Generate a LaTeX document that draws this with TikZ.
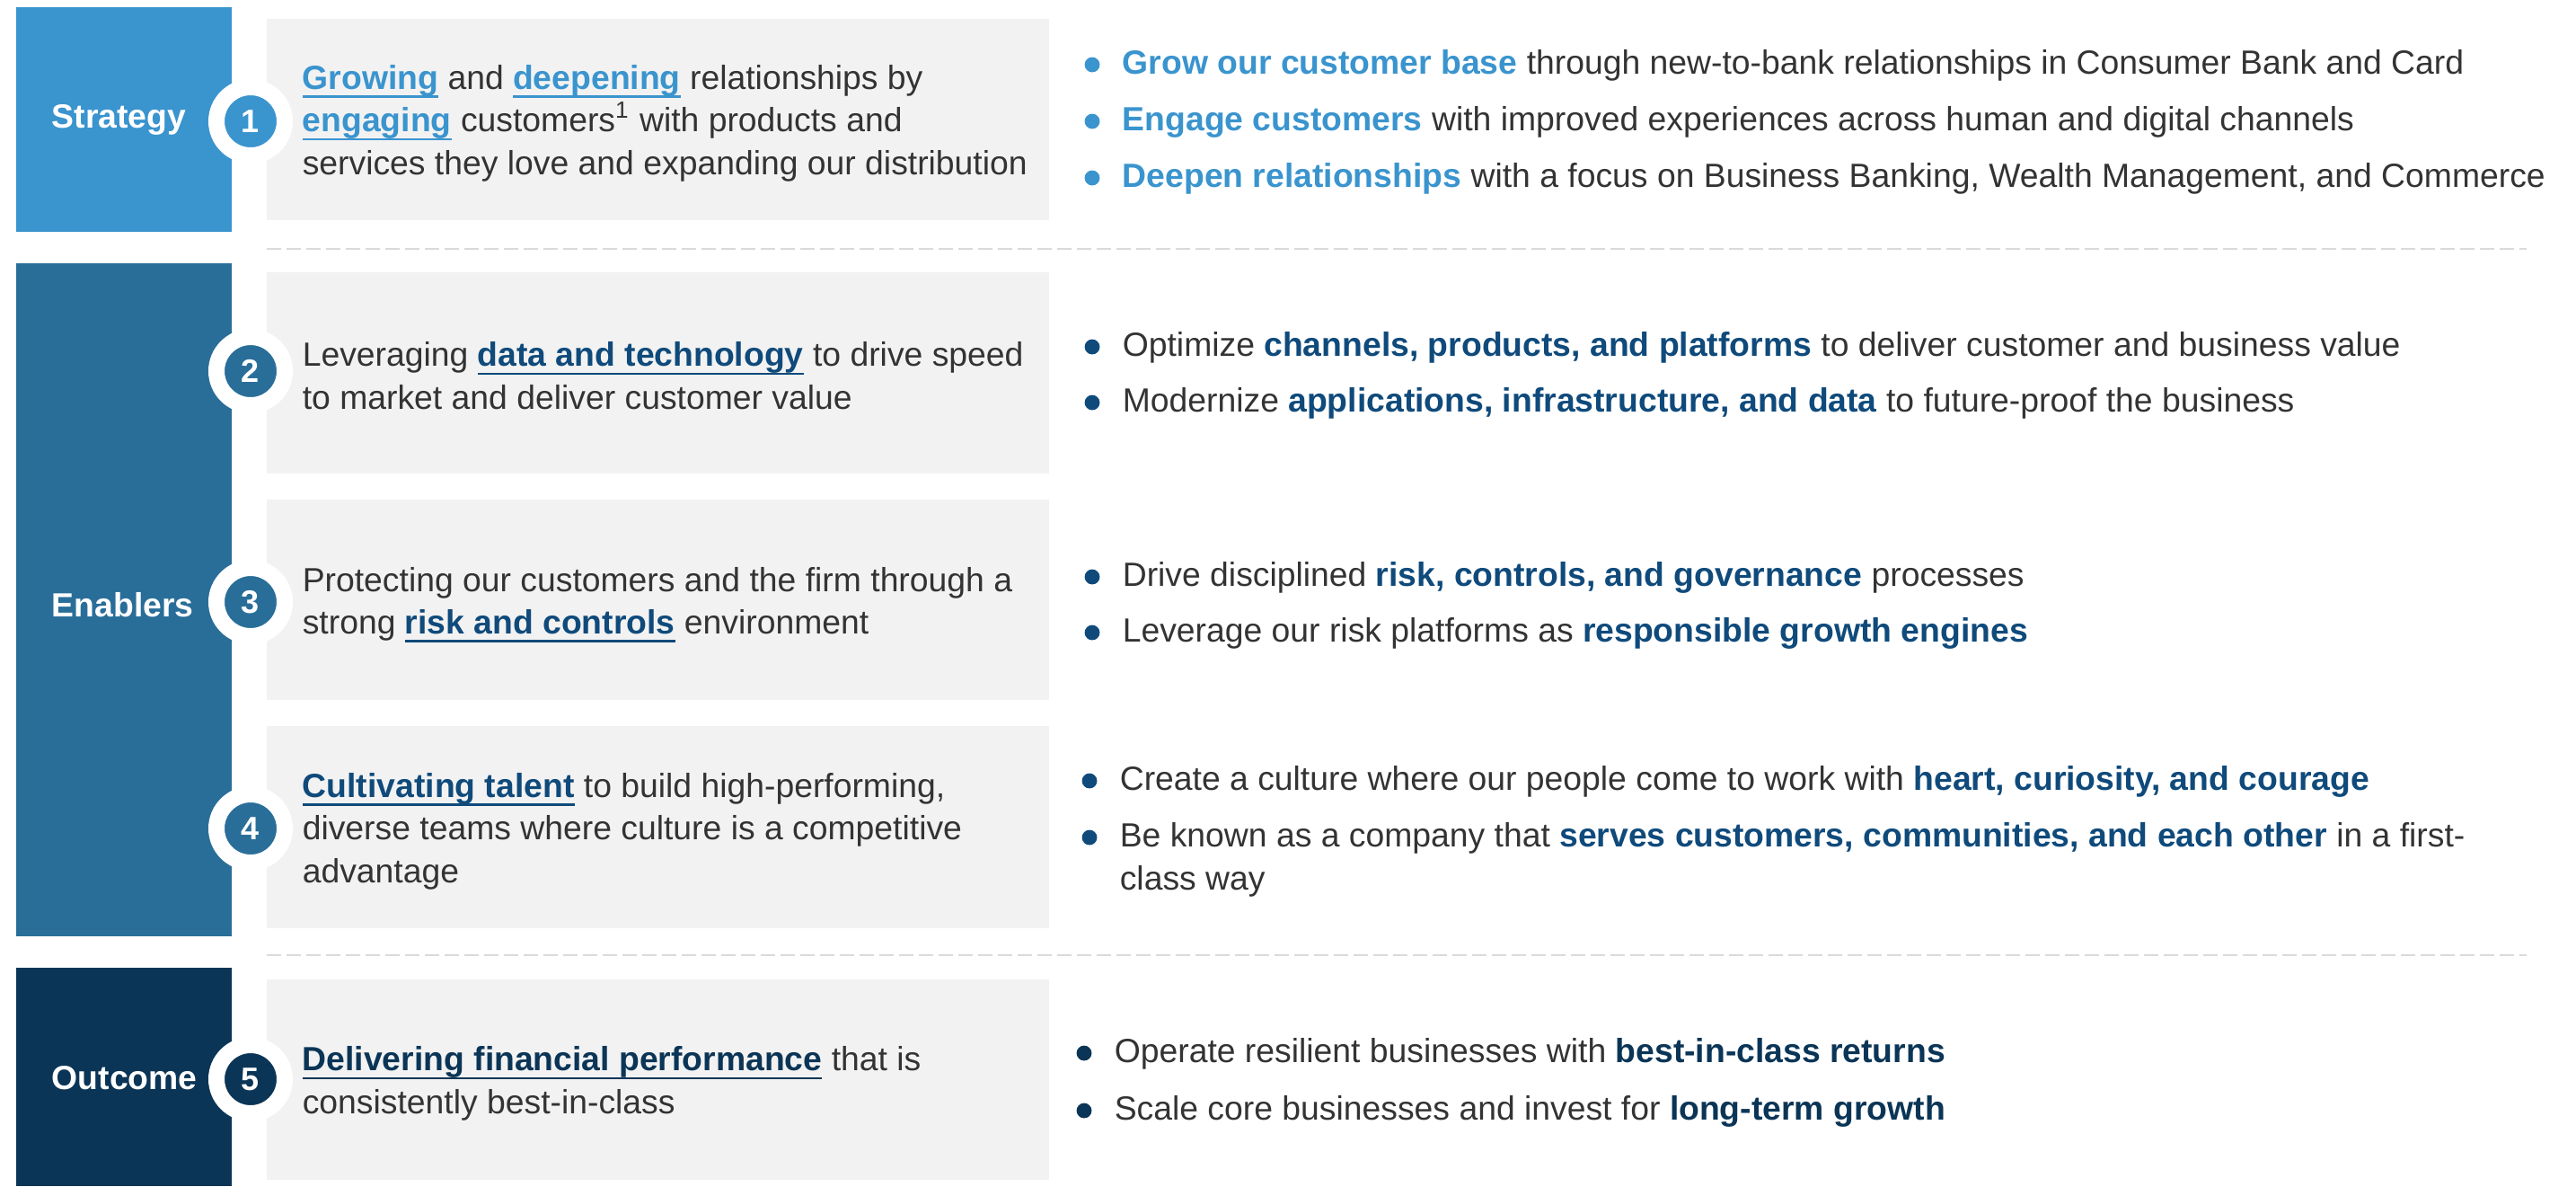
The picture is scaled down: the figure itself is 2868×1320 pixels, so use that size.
\documentclass[tikz,border=0pt]{standalone}
\usepackage{fontspec}
\setmainfont{Liberation Sans}
\usepackage{xcolor}

\definecolor{stratblue}{HTML}{3A94CE}
\definecolor{enabblue}{HTML}{296E99}
\definecolor{outnavy}{HTML}{0B3556}
\definecolor{enabtext}{HTML}{0F4A7B}
\definecolor{panelgray}{HTML}{F2F2F2}
\definecolor{bodytext}{HTML}{333333}
\definecolor{dashgray}{HTML}{DADADA}

% bold coloured phrase with an underline at a fixed depth
\newcommand\keyul[2]{{\color{#1}\bfseries\setbox0\hbox{#2}\rlap{\rule[-0.25em]{\wd0}{0.065em}}\box0}}
% bold coloured phrase
\newcommand\keyb[2]{{\color{#1}\bfseries #2}}

\begin{document}
\begin{tikzpicture}[x=0.25pt,y=-0.25pt,
  bodyfont/.style={font=\fontsize{9.33pt}{11.85pt}\selectfont},
  band/.style={fill=#1},
  panel/.style={fill=panelgray},
  sidelabel/.style={font=\fontsize{9.33pt}{11.85pt}\selectfont\bfseries, text=white, inner sep=0pt, anchor=west},
  badge/.style={circle, fill=#1, draw=white, line width=4.5pt, minimum size=19pt, inner sep=0pt,
                text=white, font=\fontsize{9pt}{10pt}\selectfont\bfseries},
  lefttext/.style={bodyfont, text=bodytext, inner sep=0pt, anchor=west, align=left},
  bullettext/.style={bodyfont, text=bodytext, inner sep=0pt, anchor=west, text height=0.72em, text depth=0.21em},
  dot/.style={circle, fill=#1, inner sep=0pt, minimum size=4.2pt},
  sep/.style={draw=dashgray, line width=0.6pt, dash pattern=on 4pt off 1.5pt}
]
\useasboundingbox (0,0) rectangle (2868,1320);

% coloured bands on the left
\fill[band=stratblue] (18,8) rectangle (258,258);
\fill[band=enabblue] (18,293) rectangle (258,1042);
\fill[band=outnavy] (18,1077) rectangle (258,1320);

% grey panels
\fill[panel] (297,21) rectangle (1168,245);
\fill[panel] (297,303) rectangle (1168,527);
\fill[panel] (297,556) rectangle (1168,779);
\fill[panel] (297,808) rectangle (1168,1033);
\fill[panel] (297,1090) rectangle (1168,1313);

% dashed separators
\coordinate (sepAa) at (297,277);
\coordinate (sepAb) at (2813,277);
\coordinate (sepBa) at (297,1063);
\coordinate (sepBb) at (2813,1063);
\draw[sep] (sepAa) -- (sepAb);
\draw[sep] (sepBa) -- (sepBb);

% band labels
\node[sidelabel] (lblStrategy) at (57,133) {Strategy};
\node[sidelabel] (lblEnablers) at (57,673) {Enablers};
\node[sidelabel] (lblOutcome) at (57,1200) {Outcome};

% numbered badges
\node[badge=stratblue] (b1) at (279,135) {1};
\node[badge=enabblue] (b2) at (279,413) {2};
\node[badge=enabblue] (b3) at (279,670) {3};
\node[badge=enabblue] (b4) at (279,922) {4};
\node[badge=outnavy] (b5) at (279,1201) {5};

% panel texts
\node[lefttext] (t1) at (336,137) {\keyul{stratblue}{Growing} and \keyul{stratblue}{deepening} relationships by\\
  \keyul{stratblue}{engaging} customers\textsuperscript{1} with products and\\
  services they love and expanding our distribution};
\node[lefttext] (t2) at (336,418) {Leveraging \keyul{enabtext}{data and technology} to drive speed\\
  to market and deliver customer value};
\node[lefttext] (t3) at (336,673) {Protecting our customers and the firm through a\\
  strong \keyul{enabtext}{risk and controls} environment};
\node[lefttext] (t4) at (336,925) {\keyul{enabtext}{Cultivating talent} to build high-performing,\\
  diverse teams where culture is a competitive\\
  advantage};
\node[lefttext] (t5) at (336,1206) {\keyul{outnavy}{Delivering financial performance} that is\\
  consistently best-in-class};

% strategy bullets
\node[dot=stratblue] (d11) at (1216,72) {};
\node[bullettext] (p11) at (1249,72) {\keyb{stratblue}{Grow our customer base} through new-to-bank relationships in Consumer Bank and Card};
\node[dot=stratblue] (d12) at (1216,135) {};
\node[bullettext] (p12) at (1249,135) {\keyb{stratblue}{Engage customers} with improved experiences across human and digital channels};
\node[dot=stratblue] (d13) at (1216,198) {};
\node[bullettext] (p13) at (1249,198) {\keyb{stratblue}{Deepen relationships} with a focus on Business Banking, Wealth Management, and Commerce};

% data and technology bullets
\node[dot=enabtext] (d21) at (1216,386) {};
\node[bullettext] (p21) at (1249,386) {Optimize \keyb{enabtext}{channels, products, and platforms} to deliver customer and business value};
\node[dot=enabtext] (d22) at (1216,448) {};
\node[bullettext] (p22) at (1249,448) {Modernize \keyb{enabtext}{applications, infrastructure, and data} to future-proof the business};

% risk and controls bullets
\node[dot=enabtext] (d31) at (1216,642) {};
\node[bullettext] (p31) at (1249,642) {Drive disciplined \keyb{enabtext}{risk, controls, and governance} processes};
\node[dot=enabtext] (d32) at (1216,704) {};
\node[bullettext] (p32) at (1249,704) {Leverage our risk platforms as \keyb{enabtext}{responsible growth engines}};

% talent bullets
\node[dot=enabtext] (d41) at (1213,869) {};
\node[bullettext] (p41) at (1246,869) {Create a culture where our people come to work with \keyb{enabtext}{heart, curiosity, and courage}};
\node[dot=enabtext] (d42) at (1213,932) {};
\node[bullettext] (p42) at (1246,932) {Be known as a company that \keyb{enabtext}{serves customers, communities, and each other} in a first-};
\node[bullettext] (p42b) at (1246,980) {class way};

% outcome bullets
\node[dot=outnavy] (d51) at (1207,1172) {};
\node[bullettext] (p51) at (1240,1172) {Operate resilient businesses with \keyb{outnavy}{best-in-class returns}};
\node[dot=outnavy] (d52) at (1207,1236) {};
\node[bullettext] (p52) at (1240,1236) {Scale core businesses and invest for \keyb{outnavy}{long-term growth}};
\end{tikzpicture}
\end{document}
